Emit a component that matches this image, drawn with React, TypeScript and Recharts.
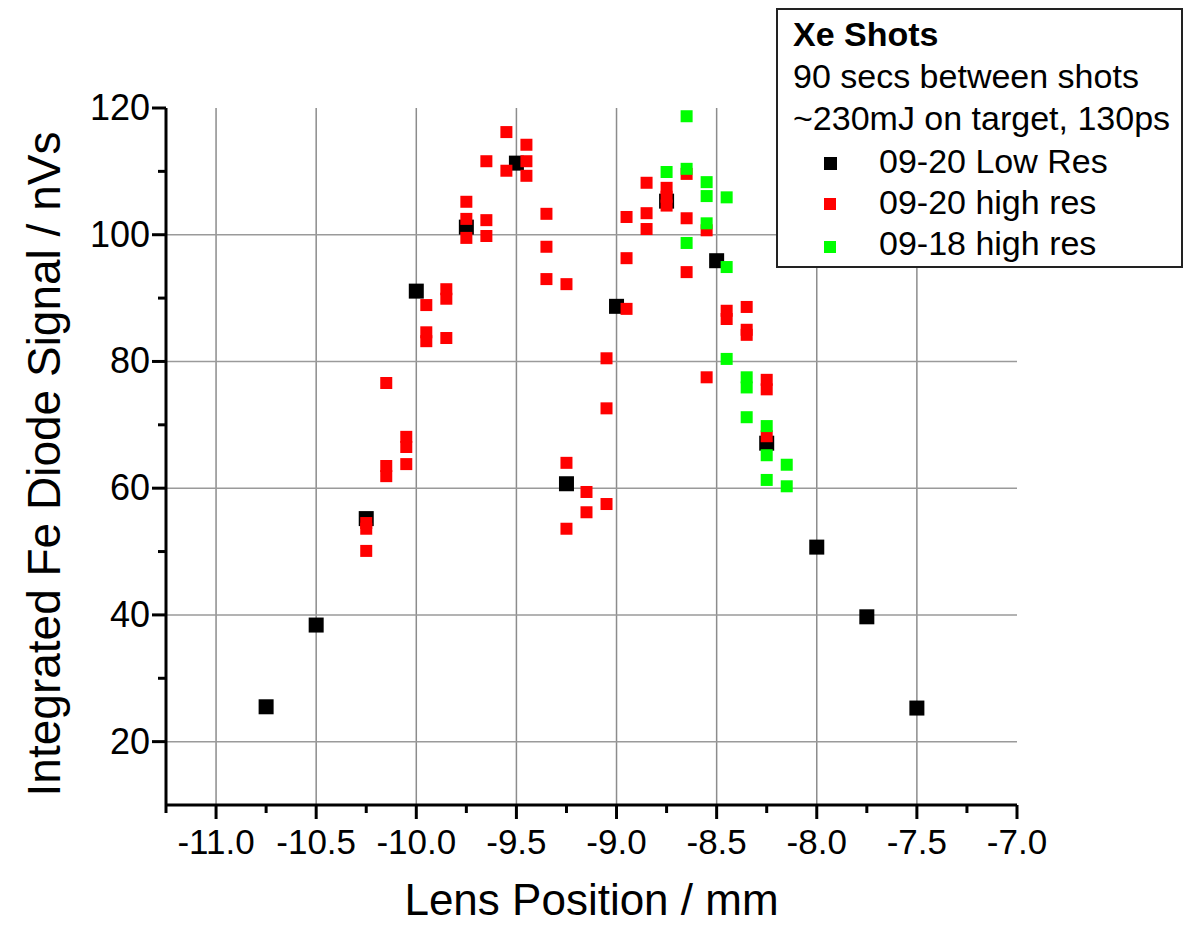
import { ScatterChart, Scatter, XAxis, YAxis, ReferenceLine, Label } from 'recharts'

const lowResX = [-10.75, -10.5, -10.25, -10.0, -9.75, -9.5, -9.25, -9.0, -8.75, -8.5, -8.25, -8.0, -7.75, -7.5]
const lowResY = [25.5, 38.4, 55.2, 91.1, 101.2, 111.3, 60.7, 88.7, 105.3, 95.9, 67.1, 50.7, 39.7, 25.3]

const hi20X = [
  -10.25, -10.25, -10.25, -10.15, -10.15, -10.15, -10.05, -10.05, -10.05,
  -9.95, -9.95, -9.95, -9.85, -9.85, -9.85, -9.75, -9.75, -9.75,
  -9.65, -9.65, -9.65, -9.55, -9.55, -9.45, -9.45, -9.45,
  -9.35, -9.35, -9.35, -9.25, -9.25, -9.25, -9.15, -9.15,
  -9.05, -9.05, -9.05, -8.95, -8.95, -8.95, -8.85, -8.85, -8.85,
  -8.75, -8.75, -8.75, -8.65, -8.65, -8.65, -8.55, -8.55,
  -8.45, -8.45, -8.35, -8.35, -8.35, -8.25, -8.25, -8.25,
]
const hi20Y = [
  54.5, 53.6, 50.1, 76.6, 63.5, 61.9, 68.1, 66.5, 63.8,
  88.9, 84.6, 83.2, 91.4, 89.9, 83.7, 105.2, 102.5, 99.5,
  111.6, 102.3, 99.8, 116.2, 110.1, 114.2, 111.6, 109.3,
  103.3, 98.1, 93.0, 92.2, 64.0, 53.6, 59.4, 56.2,
  80.5, 72.6, 57.5, 102.8, 96.3, 88.3, 108.2, 103.4, 100.9,
  107.4, 106.0, 104.6, 109.6, 102.6, 94.1, 100.7, 77.5,
  88.0, 86.7, 88.6, 85.0, 84.2, 77.1, 75.6, 68.2,
]

const hi18X = [
  -8.75, -8.65, -8.65, -8.65, -8.55, -8.55, -8.55, -8.45, -8.45, -8.45,
  -8.35, -8.35, -8.35, -8.25, -8.25, -8.25, -8.15, -8.15,
]
const hi18Y = [
  109.9, 118.7, 110.4, 98.7, 108.3, 106.1, 101.8, 105.9, 94.9, 80.4,
  77.5, 75.9, 71.2, 69.8, 65.2, 61.3, 63.7, 60.3,
]

const xMajorTicks = [-11.0, -10.5, -10.0, -9.5, -9.0, -8.5, -8.0, -7.5, -7.0]
const xMinorTicks = [-11.25, -10.75, -10.25, -9.75, -9.25, -8.75, -8.25, -7.75, -7.25]
const yMajorTicks = [20, 40, 60, 80, 100, 120]
const yMinorTicks = [30, 50, 70, 90, 110]
const xGrid = [-11.0, -10.5, -10.0, -9.5, -9.0, -8.5, -8.0, -7.5]
const yGrid = [20, 40, 60, 80, 100]

const legendNotes = ['90 secs between shots', '~230mJ on target, 130ps']
const seriesNames = ['09-20 Low Res', '09-20 high res', '09-18 high res']

const toPoints = (xs: number[], ys: number[]) => xs.map((x, i) => ({ x, y: ys[i] }))

const lowRes = toPoints(lowResX, lowResY)
const hi20 = toPoints(hi20X, hi20Y)
const hi18 = toPoints(hi18X, hi18Y)

const FONT = '"Liberation Sans", Arial, sans-serif'

const square = (size: number, color: string) => (props: any) => {
  const { cx, cy } = props
  if (cx == null || cy == null) return <g />
  return <rect x={cx - size / 2} y={cy - size / 2} width={size} height={size} fill={color} />
}

const XTick = (props: any) => {
  const { x, y, payload } = props
  const major = xMajorTicks.includes(payload.value)
  return (
    <g>
      <line x1={x} y1={y} x2={x} y2={y + (major ? 14 : 8)} stroke="#000" strokeWidth={3} />
      {major && (
        <text x={x} y={y + 49} textAnchor="middle" fontSize={35} fill="#000" fontFamily={FONT}>
          {payload.value.toFixed(1)}
        </text>
      )}
    </g>
  )
}

const YTick = (props: any) => {
  const { x, y, payload } = props
  const major = yMajorTicks.includes(payload.value)
  return (
    <g>
      <line x1={x} y1={y} x2={x - (major ? 14 : 8)} y2={y} stroke="#000" strokeWidth={3} />
      {major && (
        <text x={x - 16} y={y + 12} textAnchor="end" fontSize={36} fill="#000" fontFamily={FONT}>
          {payload.value}
        </text>
      )}
    </g>
  )
}

export default function App() {
  return (
    <div style={{ position: 'absolute', left: 0, top: 0, width: 1183, height: 926, background: '#fff', fontFamily: FONT }}>
      <ScatterChart width={1183} height={926} margin={{ top: 108, right: 166, left: 0, bottom: 0 }}>
        <XAxis
          type="number"
          dataKey="x"
          domain={[-11.25, -7.0]}
          ticks={[...xMinorTicks, ...xMajorTicks].sort((a, b) => a - b)}
          allowDataOverflow
          height={121}
          tickSize={0}
          tickMargin={0}
          tickLine={false}
          tick={<XTick />}
          axisLine={{ stroke: '#000', strokeWidth: 3 }}
          interval={0}
        >
          <Label
            content={(p: any) => (
              <text x={p.viewBox.x + p.viewBox.width / 2} y={915} textAnchor="middle" fontSize={44} fill="#000" fontFamily={FONT}>
                Lens Position / mm
              </text>
            )}
          />
        </XAxis>
        <YAxis
          type="number"
          dataKey="y"
          domain={[10, 120]}
          ticks={[...yMinorTicks, ...yMajorTicks].sort((a, b) => a - b)}
          allowDataOverflow
          width={166}
          tickSize={0}
          tickMargin={0}
          tickLine={false}
          tick={<YTick />}
          axisLine={{ stroke: '#000', strokeWidth: 3 }}
          interval={0}
        >
          <Label
            content={() => (
              <text x={60} y={464} transform="rotate(-90, 60, 464)" textAnchor="middle" fontSize={46} fill="#000" fontFamily={FONT}>
                Integrated Fe Diode Signal / nVs
              </text>
            )}
          />
        </YAxis>
        {xGrid.map((v) => (
          <ReferenceLine key={'gx' + v} x={v} stroke="#8c8c8c" strokeWidth={1.5} />
        ))}
        {yGrid.map((v) => (
          <ReferenceLine key={'gy' + v} y={v} stroke="#9a9a9a" strokeWidth={1.5} />
        ))}
        <Scatter name={seriesNames[0]} data={lowRes} shape={square(15, '#000')} isAnimationActive={false} />
        <Scatter name={seriesNames[1]} data={hi20} shape={square(12, '#ff0000')} isAnimationActive={false} />
        <Scatter name={seriesNames[2]} data={hi18} shape={square(12, '#00ff00')} isAnimationActive={false} />
      </ScatterChart>
      <svg width={407} height={260} style={{ position: 'absolute', left: 776, top: 8 }}>
        <rect x={1} y={1} width={405} height={258} fill="#fff" stroke="#222" strokeWidth={2} />
        <text x={17} y={38} fontSize={34} fontWeight="bold" fill="#000" fontFamily={FONT}>
          Xe Shots
        </text>
        {legendNotes.map((t, i) => (
          <text key={t} x={17} y={80 + i * 42} fontSize={34} fill="#000" fontFamily={FONT}>
            {t}
          </text>
        ))}
        <rect x={48} y={149} width={13} height={13} fill="#000" />
        <rect x={48} y={190} width={12} height={12} fill="#ff0000" />
        <rect x={48} y={233} width={12} height={12} fill="#00ff00" />
        {seriesNames.map((t, i) => (
          <text key={t} x={103} y={165 + i * 41} fontSize={34} fill="#000" fontFamily={FONT}>
            {t}
          </text>
        ))}
      </svg>
    </div>
  )
}
